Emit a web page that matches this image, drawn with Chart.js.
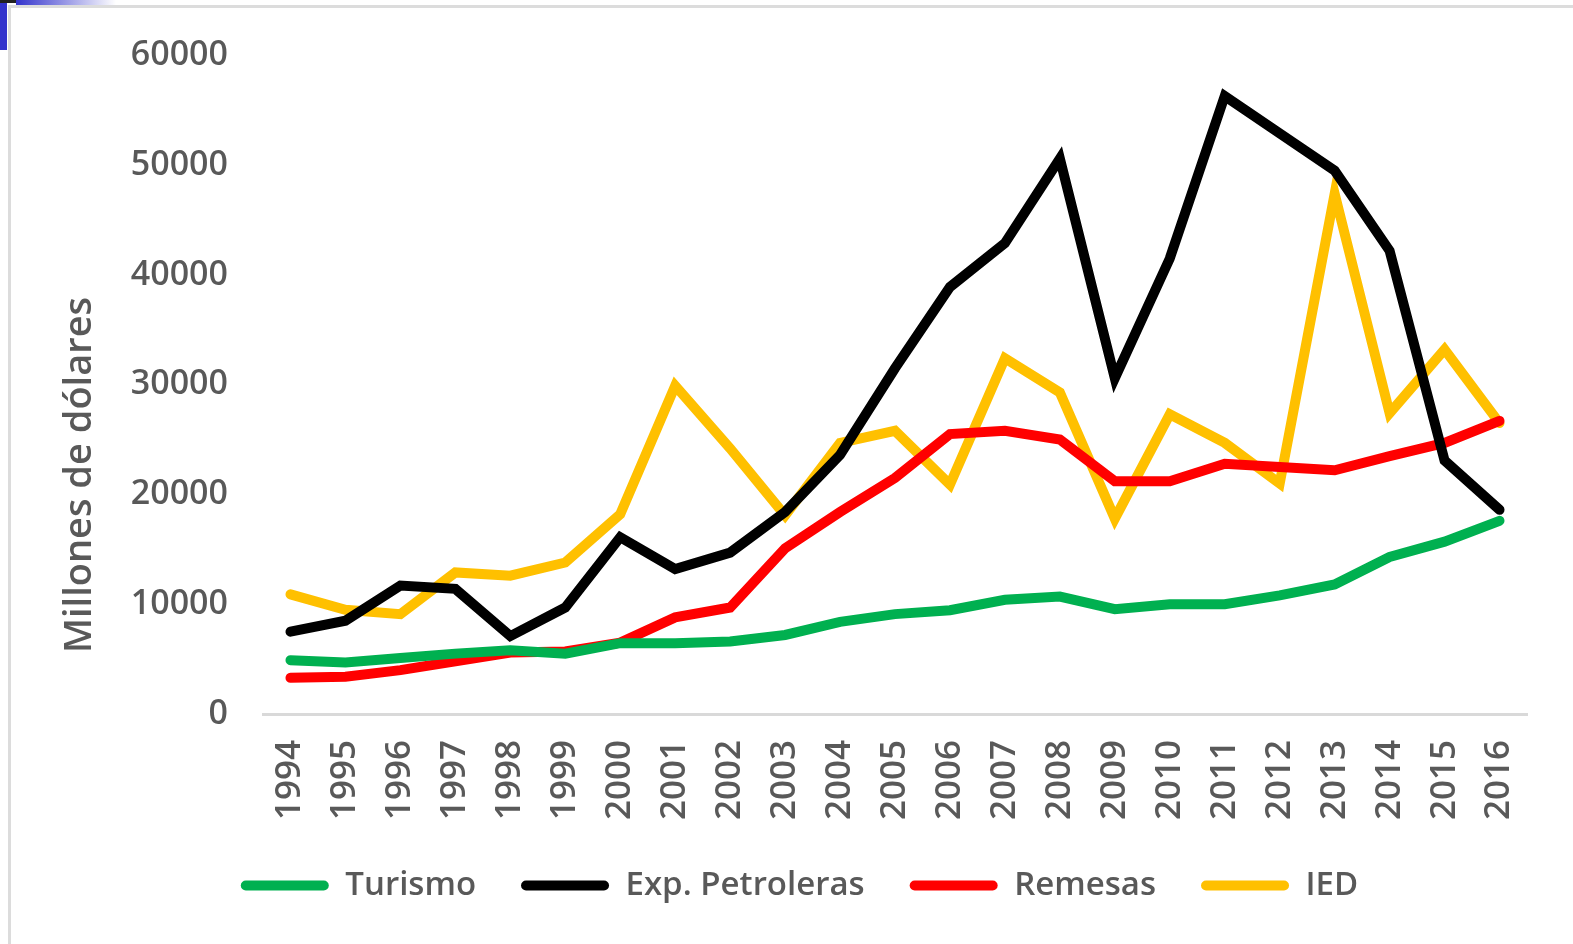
<!DOCTYPE html>
<html>
<head>
<meta charset="utf-8">
<script src="https://cdn.jsdelivr.net/npm/chart.js@4/dist/chart.umd.min.js"></script>
<style>
  html, body { margin: 0; padding: 0; background: #fff; }
  #wrap { position: relative; width: 1573px; height: 944px; overflow: hidden; }
  #frame { position: absolute; left: 8px; top: 5px; right: 0; bottom: 0; border-left: 3px solid #dcdcdc; border-top: 3px solid #dcdcdc; }
  #blueBar { position: absolute; left: 0; top: 3px; width: 7px; height: 47px; background: #3333cc; }
  #blueTop { position: absolute; left: 16px; top: 0; width: 100px; height: 5px; background: linear-gradient(to right, #3333cc, #ffffff); }
  #corner { position: absolute; left: 0; top: 0; width: 16px; height: 3px; background: #222; }
  canvas { position: absolute; left: 0; top: 0; }
</style>
</head>
<body>
<div id="wrap">
  <div id="frame"></div>
  <div id="blueBar"></div>
  <div id="blueTop"></div>
  <div id="corner"></div>
  <canvas id="lineChart" width="1573" height="944"></canvas>
</div>
<script>
// Données (millions de dollars)
const years = ['1994', '1995', '1996', '1997', '1998', '1999', '2000', '2001', '2002', '2003', '2004', '2005',
               '2006', '2007', '2008', '2009', '2010', '2011', '2012', '2013', '2014', '2015', '2016'];
const turismo = [4900, 4700, 5100, 5500, 5800, 5500, 6450, 6450, 6600, 7200, 8400, 9100,
                 9450, 10400, 10700, 9550, 10000, 10000, 10800, 11800, 14300, 15700, 17600];
const petroleras = [7500, 8500, 11700, 11400, 7100, 9700, 16100, 13200, 14700, 18400, 23600, 31500,
                    38900, 42900, 50600, 30600, 41500, 56300, 52900, 49500, 42200, 23100, 18600];
const remesas = [3300, 3400, 4000, 4800, 5600, 5700, 6500, 8800, 9700, 15100, 18400, 21500,
                 25500, 25800, 25000, 21200, 21200, 22800, 22500, 22200, 23500, 24700, 26700];
const ied = [10900, 9500, 9100, 12900, 12600, 13800, 18200, 29900, 24200, 18100, 24700, 25800,
             20900, 32400, 29300, 17800, 27300, 24700, 21000, 47400, 27400, 33200, 26500];
const yTicks = [0, 10000, 20000, 30000, 40000, 50000, 60000];
const yTitle = 'Millones de dólares';

const textColor = '#595959';
const fontFamily = '"Open Sans", "Liberation Sans", sans-serif';

function serie(label, values, color) {
    return {
        label: label,
        data: values,
        borderColor: color,
        backgroundColor: color,
        borderWidth: 10,
        pointRadius: 0,
        pointHoverRadius: 0,
        tension: 0,
        borderCapStyle: 'round',
        borderJoinStyle: 'miter'
    };
}

// Titre de l'axe Y placé à la main (plus bas que le centre de l'axe, comme l'original)
const yTitlePlugin = {
    id: 'yTitle',
    afterDraw: function (chart) {
        const c = chart.ctx;
        c.save();
        c.translate(80, 475);
        c.rotate(-Math.PI / 2);
        c.fillStyle = textColor;
        c.font = '600 38px ' + fontFamily;
        c.textAlign = 'center';
        c.textBaseline = 'middle';
        c.fillText(yTitle, 0, 0);
        c.restore();
    }
};

const ctx = document.getElementById('lineChart').getContext('2d');
const chart = new Chart(ctx, {
    type: 'line',
    data: {
        labels: years,
        datasets: [
            serie('Turismo', turismo, '#00b050'),
            serie('Exp. Petroleras', petroleras, '#000000'),
            serie('Remesas', remesas, '#ff0000'),
            serie('IED', ied, '#ffc000')
        ]
    },
    plugins: [yTitlePlugin],
    options: {
        responsive: false,
        animation: false,
        layout: { padding: { top: 52, left: 72, right: 46, bottom: 32 } },
        plugins: {
            tooltip: { enabled: false },
            legend: {
                position: 'bottom',
                labels: {
                    color: textColor,
                    font: { family: fontFamily, size: 33, weight: '600' },
                    boxWidth: 88,
                    boxHeight: 10,
                    padding: 45,
                    useBorderRadius: true,
                    borderRadius: 5,
                    generateLabels: function (chart) {
                        return chart.data.datasets.map(function (ds, i) {
                            return {
                                text: ds.label,
                                fillStyle: ds.borderColor,
                                strokeStyle: ds.borderColor,
                                lineWidth: 0,
                                fontColor: textColor,
                                borderRadius: 5,
                                datasetIndex: i
                            };
                        });
                    }
                }
            }
        },
        scales: {
            x: {
                offset: true,
                grid: { display: false, drawTicks: false },
                border: { display: true, color: '#d9d9d9', width: 3 },
                ticks: {
                    color: textColor,
                    font: { family: fontFamily, size: 35, weight: '600' },
                    minRotation: 90,
                    maxRotation: 90,
                    padding: 26,
                    autoSkip: false
                },
                afterFit: function (scale) { scale.height = 110; }
            },
            y: {
                min: 0,
                max: 60000,
                afterBuildTicks: function (scale) {
                    scale.ticks = yTicks.map(function (v) { return { value: v }; });
                },
                grid: { display: false, drawTicks: false },
                border: { display: false },
                ticks: {
                    color: textColor,
                    font: { family: fontFamily, size: 34, weight: '600' },
                    padding: 35,
                    callback: function (value) { return String(value); }
                },
                afterFit: function (scale) { scale.width = 191; }
            }
        }
    }
});
</script>
</body>
</html>
